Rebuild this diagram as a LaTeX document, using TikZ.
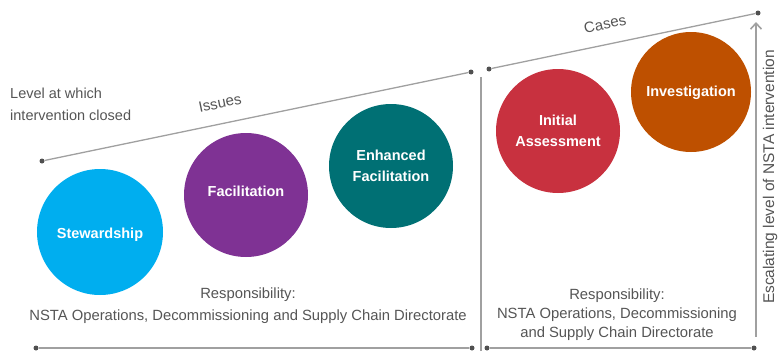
\documentclass[tikz,border=0pt]{standalone}
\usepackage{fontspec}
\setmainfont{Liberation Sans}
\usetikzlibrary{arrows.meta}
\definecolor{cStew}{RGB}{0,174,239}
\definecolor{cFac}{RGB}{127,50,148}
\definecolor{cEnh}{RGB}{0,112,116}
\definecolor{cIni}{RGB}{200,49,63}
\definecolor{cInv}{RGB}{190,80,0}
\definecolor{txtgray}{RGB}{85,85,85}
\definecolor{linegray}{RGB}{160,160,160}
\definecolor{dotgray}{RGB}{80,80,80}
\begin{document}
\begin{tikzpicture}[x=1pt,y=-1pt,
  lbl/.style={text=txtgray,font=\fontsize{14}{18}\selectfont,inner sep=0pt},
  bub/.style={circle,inner sep=0pt},
  bubtext/.style={inner sep=0pt,text=white,align=center,font=\fontsize{14.5}{21}\selectfont\bfseries},
  dotnode/.style={circle,inner sep=0pt,minimum size=5pt,fill=dotgray},
  axis/.style={draw=linegray,line width=1.6pt},
  topline/.style={draw=linegray,line width=1.3pt}]
\useasboundingbox (0,0) rectangle (779,351);
% dots
\node[dotnode] (l1) at (42,161) {};
\node[dotnode] (l2) at (471,72) {};
\node[dotnode] (r1) at (489,69) {};
\node[dotnode] (r2) at (758,13) {};
\node[dotnode] (b1) at (36,348) {};
\node[dotnode] (b2) at (472,348) {};
\node[dotnode] (b3) at (487,348) {};
\node[dotnode] (b4) at (754,348) {};
\coordinate (vtop) at (481,77);
\coordinate (vbot) at (481,351);
\coordinate (atop) at (756,22);
\coordinate (abot) at (756,337);
% lines
\draw[topline] (l1) -- (l2);
\draw[topline] (r1) -- (r2);
\draw[axis] (b1) -- (b2);
\draw[axis] (b3) -- (b4);
\draw[axis] (vbot) -- (vtop);
\draw[axis,-{Straight Barb[length=6pt,width=11pt]}] (abot) -- (atop);
% bubbles
\node[bub,fill=cStew,minimum size=126pt] (stew) at (100,232) {};
\node[bub,fill=cFac,minimum size=124pt] (fac) at (246,195) {};
\node[bub,fill=cEnh,minimum size=124pt] (enh) at (391,166) {};
\node[bub,fill=cIni,minimum size=124pt] (ini) at (558,131) {};
\node[bub,fill=cInv,minimum size=120pt] (inv) at (691,92) {};
\node[bubtext] (stewt) at (100,235) {Stewardship};
\node[bubtext] (fact) at (246,191) {Facilitation};
\node[bubtext] (enht) at (391,166) {Enhanced\\Facilitation};
\node[bubtext] (init) at (558,131) {Initial\\Assessment};
\node[bubtext] (invt) at (691,93) {Investigation};
% texts
\node[lbl,anchor=west,align=left,font=\fontsize{14.5}{22}\selectfont] (lvl) at (10,104) {Level at which\\intervention closed};
\node[lbl,rotate=11.7,font=\fontsize{15}{18}\selectfont] (iss) at (220,103) {Issues};
\node[lbl,rotate=11.7,font=\fontsize{15}{18}\selectfont] (cas) at (605,24) {Cases};
\node[lbl,align=center,font=\fontsize{14.8}{22}\selectfont] (resp1) at (248,306) {Responsibility:\\NSTA Operations, Decommissioning and Supply Chain Directorate};
\node[lbl,align=center,font=\fontsize{14.8}{19}\selectfont] (resp2) at (617,315) {Responsibility:\\NSTA Operations, Decommissioning\\and Supply Chain Directorate};
\node[lbl,rotate=90,font=\fontsize{15.5}{18}\selectfont] (esc) at (770,177) {Escalating level of NSTA intervention};
\end{tikzpicture}
\end{document}
